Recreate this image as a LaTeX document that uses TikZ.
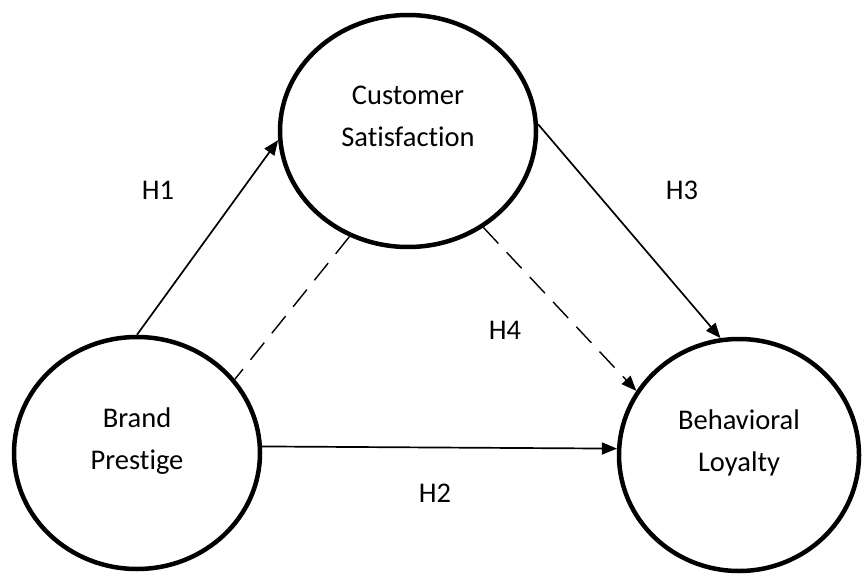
\documentclass[tikz,border=0pt]{standalone}
\usepackage{fontspec}
\setmainfont{Carlito}[Ligatures=NoCommon]
\usetikzlibrary{arrows.meta, shapes.geometric}

\begin{document}
\begin{tikzpicture}[
                                x=1pt, y=-1pt,
                                every node/.style={
                                    font=\fontsize{28.5}{42}\selectfont
                                    },
                                construct/.style={
                                    ellipse, draw,
                                    line width=4.5pt,
                                    inner sep=0pt, align=center,
                                    text depth=29pt
                                    %, minimum width and height per node
                                    },
                                hypo/.style={
                                    -{Triangle[length=15pt,width=12pt]},
                                    line width=1.7pt
                                    },
                                link/.style={
                                    line width=1.4pt,
                                    dash pattern=on 22pt off 12pt
                                    }
                                ]
                            \useasboundingbox (0,0) rectangle (862,575);
                            \node [construct, minimum width=256pt, minimum height=232pt] (cs) at (408,131) {Customer\\Satisfaction};
                            \node [construct, minimum width=246pt, minimum height=232pt] (bp) at (137,453) {Brand\\Prestige};
                            \node [construct, minimum width=240pt, minimum height=232pt] (bl) at (739,455) {Behavioral\\Loyalty};
                            \draw [hypo] (bp.north) -- (cs.184);
                            \draw [hypo] (bp.3) -- (bl.177);
                            \draw [hypo] (cs.3) -- (bl.99);
                            \draw [hypo, link] (cs.-52) -- (bl.148);
                            \draw [link] (cs.241) -- (bp.37);
                            \node (h1) at (158,190) {H1};
                            \node (h2) at (435,493) {H2};
                            \node (h3) at (682,190) {H3};
                            \node (h4) at (505,330) {H4};
                        \end{tikzpicture}
\end{document}
